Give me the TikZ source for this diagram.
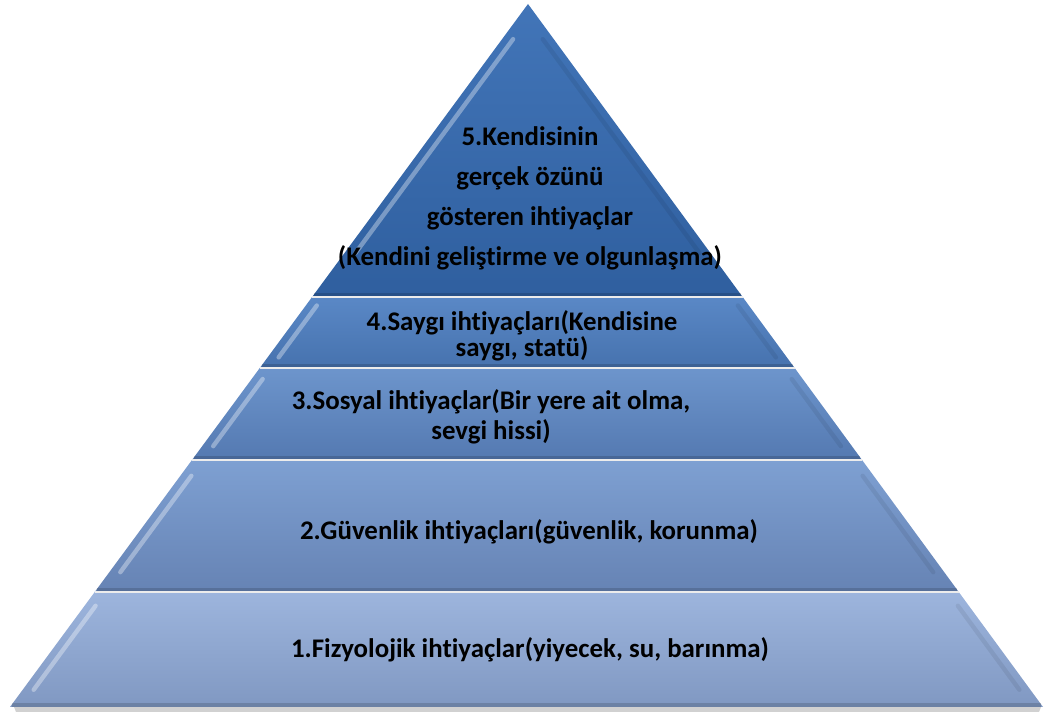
\documentclass[tikz,border=0pt]{standalone}
\usepackage{fontspec}
\setmainfont{Carlito}[Ligatures={NoCommon}]
\usetikzlibrary{calc}

% layer colours, top to bottom
\definecolor{topA}{HTML}{4275B8}\definecolor{botA}{HTML}{2F5F9F}
\definecolor{topB}{HTML}{5A88C6}\definecolor{botB}{HTML}{4672AE}
\definecolor{topC}{HTML}{6D95CC}\definecolor{botC}{HTML}{5479B1}
\definecolor{topD}{HTML}{7EA0D2}\definecolor{botD}{HTML}{6683B4}
\definecolor{topE}{HTML}{9DB5DD}\definecolor{botE}{HTML}{8098C2}

\begin{document}
\begin{tikzpicture}[x=0.02cm,y=-0.02cm,
    needtext/.style={font=\bfseries\fontsize{15.3}{17}\selectfont, align=center, text=black},
    glint/.style={white, line width=2.5pt, opacity=0.35, line cap=round},
    dim/.style={black, line width=2.5pt, opacity=0.07, line cap=round}]

    \useasboundingbox (0,0) rectangle (1045,715);

    % Outline corners
    \coordinate (B0) at (528,4);
    \coordinate (bl) at (10,707);
    \coordinate (br) at (1043,707);
    \coordinate (L0) at (B0);
    \coordinate (R0) at (B0);
    \coordinate (L5) at (bl);
    \coordinate (R5) at (br);

    % Layer boundaries
    \foreach \t [count=\i] in {0.4168,0.5178,0.6486,0.8364} {
        \coordinate (L\i) at ($(B0)!\t!(bl)$);
        \coordinate (R\i) at ($(B0)!\t!(br)$);
    }

    % Shadow under the base
    \fill[black, opacity=0.18] ($(bl)+(4,0)$) -- ($(br)+(-2,0)$) -- ($(br)+(-4,5)$) -- ($(bl)+(6,5)$) -- cycle;

    % Layers with bevel
    \foreach \i/\c in {1/A,2/B,3/C,4/D,5/E} {
        \pgfmathtruncatemacro\j{\i-1}
        \shade[top color=top\c, bottom color=bot\c] (L\j) -- (L\i) -- (R\i) -- (R\j) -- cycle;
        \draw[glint] ($(L\j)!0.12!(L\i)+(11,0)$) -- ($(L\j)!0.85!(L\i)+(11,0)$);
        \draw[dim] ($(R\j)!0.12!(R\i)+(-11,0)$) -- ($(R\j)!0.85!(R\i)+(-11,0)$);
        \draw[black, opacity=0.15, line width=2pt] ($(L\i)+(2,-2)$) -- ($(R\i)+(-2,-2)$);
    }

    % Separators between layers
    \foreach \i in {1,...,4}
        \draw[white!85!gray, line width=1.2pt] (L\i) -- (R\i);

    % Texts
    \node[needtext, font=\bfseries\fontsize{15.3}{22.8}\selectfont] (need5) at (530,198)
        {5.Kendisinin\\gerçek özünü\\gösteren ihtiyaçlar\\(Kendini geliştirme ve olgunlaşma)};
    \node[needtext, font=\bfseries\fontsize{15.3}{14.8}\selectfont] (need4) at (522,336)
        {4.Saygı ihtiyaçları(Kendisine\\saygı, statü)};
    \node[needtext] (need3) at (491,417) {3.Sosyal ihtiyaçlar(Bir yere ait olma,\\sevgi hissi)};
    \node[needtext] (need2) at (529,532) {2.Güvenlik ihtiyaçları(güvenlik, korunma)};
    \node[needtext] (need1) at (530,650) {1.Fizyolojik ihtiyaçlar(yiyecek, su, barınma)};
\end{tikzpicture}
\end{document}
